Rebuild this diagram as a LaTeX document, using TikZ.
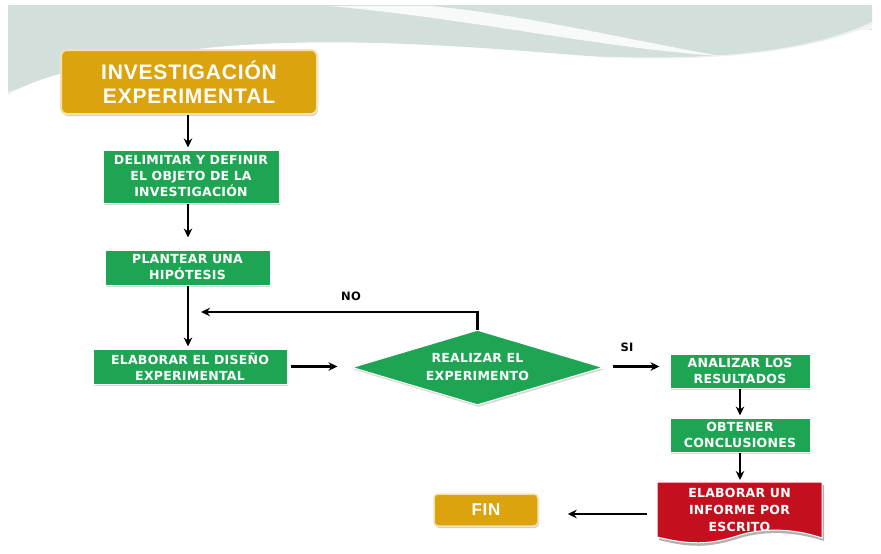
\documentclass[tikz,border=0pt]{standalone}
\usepackage{fontspec}
\setmainfont{Liberation Sans}
\usetikzlibrary{arrows.meta,shapes.geometric,shadows}
\definecolor{gold}{HTML}{DBA40E}
\definecolor{goldedge}{HTML}{F3E3B0}
\definecolor{grn}{HTML}{1EA553}
\definecolor{redbox}{HTML}{C4101E}
\definecolor{wave}{HTML}{D3DFDA}
\definecolor{wave2}{HTML}{E2EAE6}
\newfontfamily\boxfont[LetterSpace=2]{DejaVu Sans}
\newfontfamily\titlefont[LetterSpace=4]{Liberation Sans}
\tikzset{
  goldbox/.style={draw=goldedge, line width=2pt, fill=gold, rounded corners=6pt, text=white, align=center, inner sep=0pt, drop shadow={opacity=0.35, shadow xshift=1pt, shadow yshift=-2pt}},
  greenbox/.style={draw=white, line width=1pt, fill=grn, text=white, font=\boxfont\bfseries\fontsize{12.5}{16}\selectfont, align=center, inner sep=0pt, drop shadow={opacity=0.3, shadow xshift=1pt, shadow yshift=-2pt}},
  conn/.style={-{Stealth[length=9pt,width=8.5pt]}, line width=2.2pt, black},
  lbl/.style={font=\boxfont\bfseries\fontsize{11.5}{12}\selectfont}
}
\begin{document}
\begin{tikzpicture}[x=1pt,y=-1pt]
\useasboundingbox (0,0) rectangle (881,554);
\fill[white] (0,0) rectangle (881,554);
\fill[wave2] (8,5) rectangle (872,30);
\fill[wave] (8,5) -- (872,5) -- (872,25) .. controls (800,55) and (700,62) .. (600,57) .. controls (450,45) and (300,32) .. (150,55) .. controls (80,66) and (30,80) .. (8,95) -- cycle;
\fill[white,opacity=0.85] (330,6) .. controls (480,20) and (600,48) .. (720,56) .. controls (630,40) and (520,14) .. (430,6) -- cycle;
\fill[white,opacity=0.6] (8,92) .. controls (120,55) and (300,40) .. (560,55) .. controls (700,62) and (800,55) .. (872,22) -- (872,28) .. controls (800,62) and (700,68) .. (560,60) .. controls (300,46) and (120,62) .. (8,100) -- cycle;

\coordinate (col) at (188,0);
\node[goldbox, minimum width=256pt, minimum height=64pt, font=\titlefont\bfseries\fontsize{21}{24}\selectfont] (inv) at (189,82) {INVESTIGACIÓN\\EXPERIMENTAL};
\node[greenbox, minimum width=176pt, minimum height=53pt] (del) at (191,176.5) {DELIMITAR Y DEFINIR\\EL OBJETO DE LA\\INVESTIGACIÓN};
\node[greenbox, minimum width=165pt, minimum height=35pt] (pla) at (187.5,267.5) {PLANTEAR UNA\\HIPÓTESIS};
\node[greenbox, minimum width=194pt, minimum height=35pt] (dis) at (190,366.5) {ELABORAR EL DISEÑO\\EXPERIMENTAL};
\node[diamond, aspect=3.35, fill=grn, draw=white, line width=1pt, text=white, font=\boxfont\bfseries\fontsize{12.5}{18}\selectfont, align=center, inner sep=0pt, minimum width=251pt, minimum height=75pt, drop shadow={opacity=0.3, shadow xshift=1pt, shadow yshift=-2pt}] (exp) at (477.5,367.5) {REALIZAR EL\\EXPERIMENTO};
\node[greenbox, minimum width=140pt, minimum height=34pt] (ana) at (740,371) {ANALIZAR LOS\\RESULTADOS};
\node[greenbox, minimum width=140pt, minimum height=34pt] (obt) at (740,435) {OBTENER\\CONCLUSIONES};
\coordinate (infTL) at (657,482);
\fill[black,opacity=0.3] (659,485) -- (824,485) -- (824,541) .. controls (790,530) and (760,532) .. (740,538) .. controls (710,548) and (690,548) .. (659,540) -- cycle;
\draw[white, line width=1pt, fill=redbox] (infTL) -- (822,482) -- (822,538) .. controls (790,527) and (760,529) .. (740,535) .. controls (710,545) and (690,545) .. (657,537) -- cycle;
\node[text=white, font=\boxfont\bfseries\fontsize{12.5}{17}\selectfont, align=center, inner sep=0pt] (inf) at (739.5,510) {ELABORAR UN\\INFORME POR\\ESCRITO};
\coordinate (infL) at (647,514);
\node[goldbox, minimum width=104pt, minimum height=32pt, line width=1.5pt, rounded corners=4pt, font=\titlefont\bfseries\fontsize{17}{19}\selectfont] (fin) at (486,510) {FIN};

\draw[conn] (inv.south -| col) -- ([yshift=2pt]del.north -| col);
\draw[conn] (del.south -| col) -- ([yshift=12pt]pla.north -| col);
\draw[conn] (pla.south -| col) -- ([yshift=2pt]dis.north -| col);
\draw[conn] ([xshift=3pt]dis.east) -- ([xshift=-14pt]exp.west |- dis.east);
\coordinate (nob) at (201,312);
\draw[conn] (exp.north) -- (exp.north |- nob) -- (nob);
\node[lbl] (no) at (351,296) {NO};
\draw[conn] ([xshift=9pt]exp.east |- dis.east) -- ([xshift=-10pt]ana.west |- dis.east);
\node[lbl] (si) at (627,347) {SI};
\draw[conn] (ana.south) -- ([yshift=2pt]obt.north);
\draw[conn] (obt.south) -- ([yshift=2pt]obt.south |- infTL);
\draw[conn] (infL) -- ([xshift=29pt]fin.east |- infL);
\end{tikzpicture}
\end{document}
